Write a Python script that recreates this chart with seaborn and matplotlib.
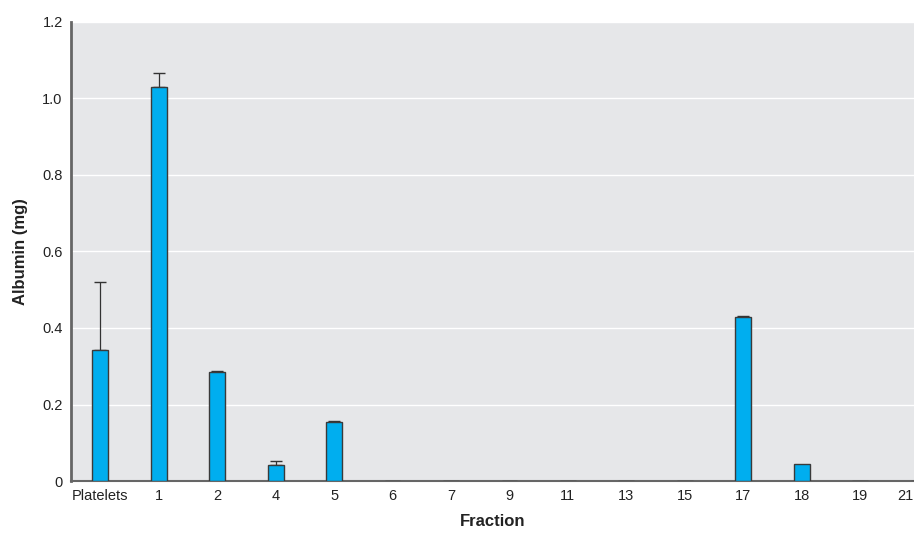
import matplotlib
matplotlib.use("Agg")
import matplotlib.pyplot as plt
import seaborn as sns
import pandas as pd
import numpy as np
from matplotlib import font_manager

fractions = ["Platelets", "1", "2", "4", "5", "6", "7", "9", "11", "13", "15", "17", "18", "19", "21"]
albumin = [0.342, 1.030, 0.285, 0.042, 0.154, 0, 0, 0, 0, 0, 0, 0.429, 0.044, 0, 0]
err_upper = [0.178, 0.037, 0.003, 0.010, 0.003, 0, 0, 0, 0, 0, 0, 0.002, 0, 0, 0]
yticks = [0, 0.2, 0.4, 0.6, 0.8, 1.0, 1.2]
ytick_labels = ["0", "0.2", "0.4", "0.6", "0.8", "1.0", "1.2"]

sns.set_theme(style="white")
names = {f.name for f in font_manager.fontManager.ttflist}
fam = "Liberation Sans Narrow" if "Liberation Sans Narrow" in names else "Liberation Sans"
plt.rcParams["font.family"] = [fam, "DejaVu Sans"]

df = pd.DataFrame({"Fraction": fractions, "Albumin": albumin})

fig = plt.figure(figsize=(9.14, 5.36), dpi=100)
ax = fig.add_axes([0.0777, 0.1026, 0.9223, 0.8564])
ax.set_facecolor("#E6E7E9")

sns.barplot(data=df, x="Fraction", y="Albumin", order=fractions, color="#00AEEF",
            width=0.27, edgecolor="#3a3a3a", linewidth=1.0, saturation=1, ax=ax, zorder=3)

xs = np.arange(len(fractions))
for x, v, e in zip(xs, albumin, err_upper):
    if e > 0:
        ax.errorbar(x, v, yerr=[[0], [e]], fmt="none", ecolor="#333333",
                    elinewidth=0.9, capsize=4, capthick=1.0, zorder=2)

ax.set_ylim(0, 1.2)
ax.set_xlim(-0.5, 13.92)
ax.set_yticks(yticks)
ax.set_yticklabels(ytick_labels, fontsize=10.5, color="#222222")
ticks_x = list(range(14)) + [13.77]
ax.set_xticks(ticks_x)
ax.set_xticklabels(fractions, fontsize=10.5, color="#222222")
ax.tick_params(axis="both", length=0, pad=6)
ax.yaxis.grid(True, color="white", linewidth=1.0, zorder=0)
ax.set_axisbelow(True)
for s in ["top", "right"]:
    ax.spines[s].set_visible(False)
ax.spines["left"].set_color("#666666")
ax.spines["left"].set_linewidth(2)
ax.spines["bottom"].set_color("#666666")
ax.spines["bottom"].set_linewidth(1.5)

ax.set_ylabel("Albumin (mg)", fontsize=12, fontweight="bold", color="#222222", labelpad=10)
ax.set_xlabel("Fraction", fontsize=12, fontweight="bold", color="#222222", labelpad=8)

fig.savefig("out.png", dpi=100)
